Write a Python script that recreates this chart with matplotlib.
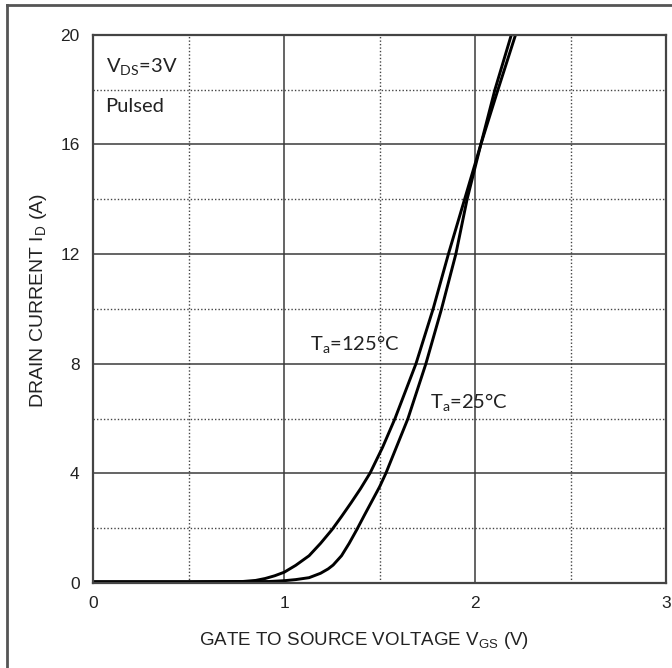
import matplotlib
matplotlib.use("Agg")
import matplotlib.pyplot as plt
from matplotlib.lines import Line2D
from matplotlib.ticker import MultipleLocator

# Curvas (VGS en V, ID en A)
vgs_125 = [0.0, 0.5, 0.78, 0.85, 0.9, 0.95, 1.0, 1.06, 1.13, 1.19, 1.25, 1.30, 1.35, 1.40, 1.45,
           1.515, 1.58, 1.635, 1.69, 1.78, 1.86, 1.945, 2.03, 2.12, 2.212]
id_125 = [0.05, 0.05, 0.06, 0.1, 0.17, 0.27, 0.4, 0.65, 1.0, 1.45, 1.95, 2.43, 2.93, 3.45, 4.02,
          4.95, 6.0, 7.0, 8.0, 10.0, 12.0, 14.0, 16.0, 18.0, 20.0]

vgs_25 = [0.0, 0.5, 0.92, 1.0, 1.06, 1.13, 1.19, 1.23, 1.256, 1.30, 1.34, 1.38, 1.42, 1.46, 1.50,
          1.532, 1.59, 1.648, 1.695, 1.742, 1.824, 1.899, 1.958, 2.03, 2.104, 2.19]
id_25 = [0.05, 0.05, 0.06, 0.09, 0.13, 0.2, 0.36, 0.52, 0.66, 1.0, 1.45, 1.95, 2.48, 3.0, 3.52,
         4.0, 5.0, 6.0, 7.0, 8.0, 10.0, 12.0, 14.0, 16.0, 18.0, 20.0]

x_ticks = [0, 1, 2, 3]
y_ticks = [0, 4, 8, 12, 16, 20]

fig = plt.figure(figsize=(6.72, 6.68), dpi=100)
ax = fig.add_axes([0.139, 0.127, 0.852, 0.821])

ax.plot(vgs_125, id_125, color="black", linewidth=2.1, solid_joinstyle="round")
ax.plot(vgs_25, id_25, color="black", linewidth=2.1, solid_joinstyle="round")

ax.set_xlim(0, 3)
ax.set_ylim(0, 20)
ax.set_xticks(x_ticks)
ax.set_yticks(y_ticks)
ax.xaxis.set_minor_locator(MultipleLocator(0.5))
ax.yaxis.set_minor_locator(MultipleLocator(2))
ax.grid(which="major", color="#3a3a3a", linewidth=1.1, linestyle="-")
ax.grid(which="minor", color="#444444", linewidth=1.0, linestyle=(0, (1, 1.5)))
ax.set_axisbelow(True)
ax.tick_params(which="both", length=0)
ax.tick_params(axis="x", pad=9, labelsize=12.5)
ax.tick_params(axis="y", pad=10, labelsize=12.5)
for s in ax.spines.values():
    s.set_color("#444444")
    s.set_linewidth(1.6)

fuente = "Liberation Sans"
for lab in ax.get_xticklabels() + ax.get_yticklabels():
    lab.set_fontfamily(fuente)
    lab.set_color("#222222")

ax.set_xlabel("GATE TO SOURCE VOLTAGE V$_{\\mathregular{GS}}$ (V)", fontfamily=fuente,
              fontsize=13.5, color="#222222")
ax.set_ylabel("DRAIN CURRENT I$_{\\mathregular{D}}$ (A)", fontfamily=fuente,
              fontsize=14, color="#222222")
ax.xaxis.set_label_coords(0.473, -0.086)
ax.yaxis.set_label_coords(-0.077, 0.515)

txt = dict(fontfamily="Lato", fontsize=14.5, color="#222222", va="center")
ax.text(0.065, 18.8, "V$_{\\mathregular{DS}}$=3V", **txt)
ax.text(0.06, 17.4, "Pulsed", **txt)
ax.text(1.134, 8.69, "T$_{\\mathregular{a}}$=125°C", **txt)
ax.text(1.763, 6.57, "T$_{\\mathregular{a}}$=25°C", **txt)

# marco exterior
fig.add_artist(Line2D([0.011, 0.011], [0, 0.992], color="#555555", linewidth=2, transform=fig.transFigure))
fig.add_artist(Line2D([0.011, 1.0], [0.992, 0.992], color="#555555", linewidth=2, transform=fig.transFigure))

fig.savefig("out.png", dpi=100)
